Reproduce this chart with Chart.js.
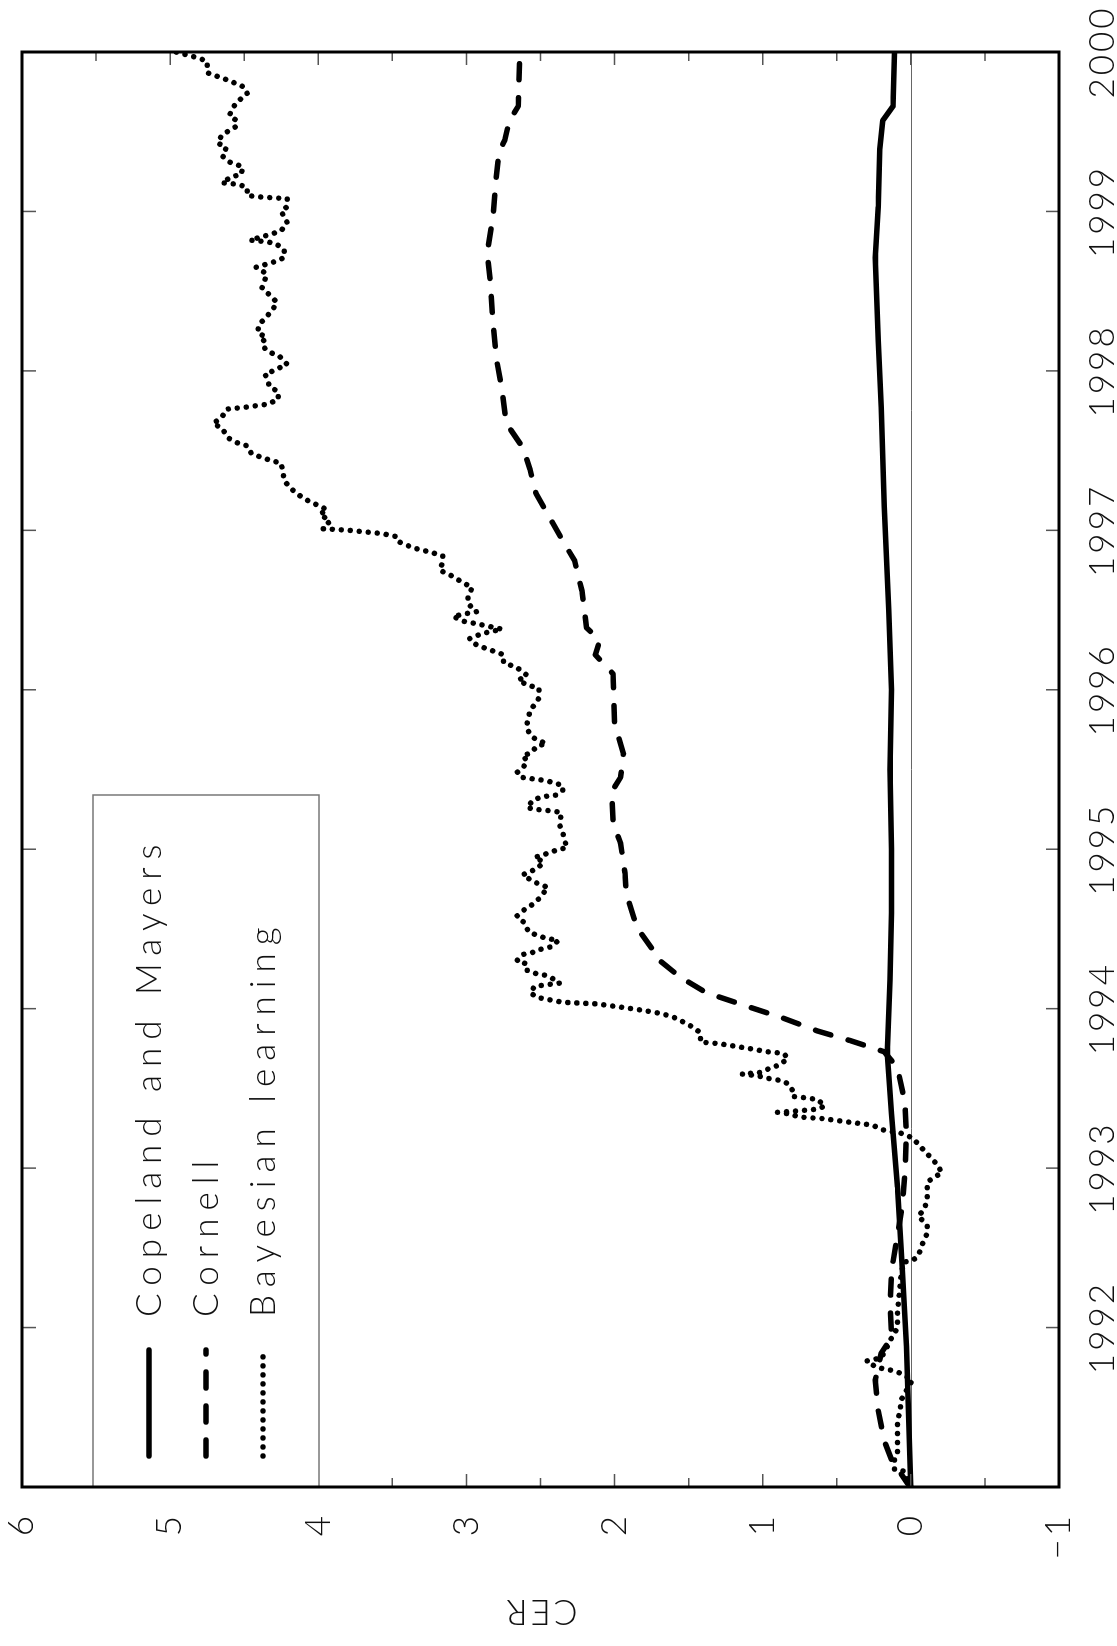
<!DOCTYPE html>
<html>
<head>
<meta charset="utf-8">
<title>CER</title>
<script src="https://cdn.jsdelivr.net/npm/chart.js@4.4.1/dist/chart.umd.min.js"></script>
<style>
  html, body { margin: 0; padding: 0; background: #fff; }
  #page { position: relative; width: 1117px; height: 1646px; overflow: hidden; }
  /* the chart is drawn landscape and turned a quarter turn to the left */
  #rot { position: absolute; left: 0; top: 0; width: 1646px; height: 1117px;
         transform-origin: 0 0; transform: translate(0, 1646px) rotate(-90deg); }
</style>
</head>
<body>
<div id="page"><div id="rot"><canvas id="cer" width="1646" height="1117"></canvas></div></div>
<script>
const seriesNames = ["Copeland and Mayers", "Cornell", "Bayesian learning"];
const yearTicks = [1992, 1993, 1994, 1995, 1996, 1997, 1998, 1999, 2000];
const cerTicks = [-1, 0, 1, 2, 3, 4, 5, 6];

const cmYear = [1991.00, 1991.88, 1992.40, 1992.88, 1993.34, 1993.72, 1994.18, 1994.60, 1995.00, 1995.50,
  1996.00, 1996.50, 1997.15, 1997.77, 1998.19, 1998.71, 1999.03, 1999.39, 1999.57, 1999.66, 2000.00];
const cmCER = [0.00, 0.03, 0.06, 0.09, 0.13, 0.16, 0.14, 0.13, 0.13, 0.14,
  0.13, 0.15, 0.18, 0.20, 0.22, 0.24, 0.22, 0.21, 0.19, 0.12, 0.11];

const cornellYear = [1991.00, 1991.02, 1991.17, 1991.29, 1991.48, 1991.67, 1991.84, 1991.94, 1992.13, 1992.36,
  1992.75, 1992.97, 1993.22, 1993.41, 1993.63, 1993.73, 1993.80, 1993.86, 1993.94, 1994.01,
  1994.10, 1994.20, 1994.32, 1994.38, 1994.51, 1994.72, 1994.85, 1995.04, 1995.16, 1995.36,
  1995.45, 1995.60, 1995.79, 1996.10, 1996.22, 1996.31, 1996.39, 1996.62, 1996.81, 1996.92,
  1997.05, 1997.23, 1997.38, 1997.52, 1997.67, 1997.88, 1998.09, 1998.30, 1998.57, 1998.74,
  1998.97, 1999.20, 1999.37, 1999.45, 1999.57, 1999.66, 2000.00];
const cornellCER = [0.00, 0.02, 0.13, 0.18, 0.22, 0.24, 0.20, 0.13, 0.14, 0.13,
  0.06, 0.04, 0.03, 0.04, 0.09, 0.18, 0.41, 0.63, 0.86, 1.09,
  1.38, 1.56, 1.72, 1.75, 1.85, 1.92, 1.93, 1.96, 2.01, 2.02,
  1.96, 1.94, 2.00, 2.01, 2.13, 2.10, 2.19, 2.22, 2.27, 2.34,
  2.42, 2.53, 2.57, 2.62, 2.73, 2.76, 2.80, 2.82, 2.84, 2.86,
  2.82, 2.80, 2.78, 2.74, 2.71, 2.65, 2.64];

const bayesYear = [1991.00, 1991.02, 1991.10, 1991.11, 1991.17, 1991.22, 1991.25, 1991.32, 1991.41, 1991.49,
  1991.54, 1991.67, 1991.71, 1991.73, 1991.75, 1991.79, 1991.81, 1991.88, 1991.92, 1991.95,
  1992.00, 1992.09, 1992.30, 1992.41, 1992.42, 1992.45, 1992.53, 1992.59, 1992.64, 1992.70,
  1992.74, 1992.80, 1992.91, 1992.94, 1992.97, 1993.02, 1993.09, 1993.14, 1993.19, 1993.22,
  1993.24, 1993.27, 1993.29, 1993.31, 1993.32, 1993.34, 1993.35, 1993.36, 1993.37, 1993.39,
  1993.43, 1993.44, 1993.45, 1993.49, 1993.53, 1993.55, 1993.56, 1993.58, 1993.59, 1993.60,
  1993.63, 1993.65, 1993.69, 1993.72, 1993.73, 1993.75, 1993.78, 1993.79, 1993.85, 1993.90,
  1993.95, 1993.97, 1993.99, 1994.01, 1994.03, 1994.04, 1994.07, 1994.10, 1994.14, 1994.15,
  1994.16, 1994.19, 1994.21, 1994.22, 1994.24, 1994.28, 1994.30, 1994.34, 1994.35, 1994.37,
  1994.39, 1994.43, 1994.44, 1994.46, 1994.48, 1994.54, 1994.58, 1994.62, 1994.65, 1994.69,
  1994.76, 1994.79, 1994.81, 1994.84, 1994.86, 1994.88, 1994.92, 1994.95, 1994.96, 1994.98,
  1995.00, 1995.01, 1995.06, 1995.11, 1995.15, 1995.23, 1995.24, 1995.25, 1995.26, 1995.31,
  1995.33, 1995.34, 1995.37, 1995.40, 1995.43, 1995.45, 1995.48, 1995.51, 1995.55, 1995.59,
  1995.60, 1995.65, 1995.66, 1995.70, 1995.75, 1995.79, 1995.87, 1995.92, 1995.95, 1996.01,
  1996.03, 1996.06, 1996.09, 1996.14, 1996.17, 1996.22, 1996.25, 1996.28, 1996.32, 1996.34,
  1996.36, 1996.38, 1996.39, 1996.41, 1996.43, 1996.46, 1996.48, 1996.49, 1996.54, 1996.59,
  1996.64, 1996.67, 1996.72, 1996.75, 1996.80, 1996.84, 1996.86, 1996.89, 1996.93, 1996.96,
  1996.98, 1997.00, 1997.01, 1997.06, 1997.10, 1997.13, 1997.16, 1997.20, 1997.25, 1997.31,
  1997.37, 1997.42, 1997.45, 1997.48, 1997.53, 1997.55, 1997.58, 1997.64, 1997.67, 1997.71,
  1997.76, 1997.77, 1997.79, 1997.82, 1997.87, 1997.90, 1997.94, 1997.98, 1997.99, 1998.02,
  1998.04, 1998.09, 1998.11, 1998.14, 1998.18, 1998.21, 1998.24, 1998.29, 1998.33, 1998.38,
  1998.43, 1998.46, 1998.52, 1998.57, 1998.61, 1998.65, 1998.68, 1998.71, 1998.76, 1998.80,
  1998.81, 1998.82, 1998.86, 1998.88, 1998.93, 1999.00, 1999.03, 1999.08, 1999.09, 1999.10,
  1999.15, 1999.17, 1999.18, 1999.22, 1999.23, 1999.28, 1999.31, 1999.35, 1999.40, 1999.43,
  1999.48, 1999.53, 1999.57, 1999.60, 1999.65, 1999.70, 1999.74, 1999.78, 1999.82, 1999.87,
  1999.94, 1999.96, 2000.00];
const bayesCER = [0.00, 0.01, 0.05, 0.11, 0.11, 0.09, 0.09, 0.09, 0.09, 0.07,
  0.07, -0.01, 0.06, 0.12, 0.23, 0.30, 0.20, 0.16, 0.14, 0.12,
  0.09, 0.09, 0.07, 0.05, -0.01, -0.05, -0.08, -0.11, -0.11, -0.05,
  -0.09, -0.11, -0.11, -0.15, -0.21, -0.18, -0.11, -0.06, -0.01, 0.07,
  0.19, 0.26, 0.43, 0.59, 0.75, 0.82, 0.90, 0.75, 0.63, 0.58,
  0.63, 0.70, 0.80, 0.80, 0.83, 0.88, 0.95, 1.04, 1.14, 1.02,
  0.94, 0.88, 0.83, 0.86, 0.97, 1.09, 1.29, 1.42, 1.42, 1.50,
  1.61, 1.69, 1.81, 1.96, 2.12, 2.35, 2.52, 2.57, 2.54, 2.46,
  2.37, 2.42, 2.47, 2.53, 2.59, 2.59, 2.66, 2.62, 2.56, 2.51,
  2.42, 2.38, 2.46, 2.52, 2.58, 2.61, 2.66, 2.61, 2.56, 2.51,
  2.45, 2.53, 2.57, 2.62, 2.57, 2.52, 2.48, 2.54, 2.49, 2.44,
  2.37, 2.32, 2.34, 2.35, 2.37, 2.36, 2.42, 2.53, 2.59, 2.55,
  2.48, 2.39, 2.35, 2.35, 2.46, 2.62, 2.66, 2.62, 2.59, 2.62,
  2.57, 2.52, 2.46, 2.55, 2.59, 2.59, 2.57, 2.53, 2.51, 2.51,
  2.59, 2.65, 2.59, 2.66, 2.75, 2.75, 2.84, 2.93, 2.98, 2.93,
  2.86, 2.76, 2.81, 2.91, 3.02, 3.09, 2.99, 2.93, 2.99, 2.99,
  2.96, 3.02, 3.11, 3.18, 3.16, 3.16, 3.23, 3.36, 3.46, 3.47,
  3.57, 3.79, 3.97, 3.92, 3.99, 3.94, 4.01, 4.10, 4.17, 4.23,
  4.24, 4.25, 4.36, 4.45, 4.48, 4.55, 4.61, 4.65, 4.71, 4.65,
  4.62, 4.51, 4.35, 4.27, 4.27, 4.33, 4.34, 4.36, 4.33, 4.26,
  4.21, 4.26, 4.31, 4.36, 4.38, 4.35, 4.41, 4.40, 4.36, 4.31,
  4.28, 4.31, 4.38, 4.36, 4.35, 4.42, 4.31, 4.23, 4.23, 4.29,
  4.35, 4.46, 4.31, 4.25, 4.21, 4.25, 4.21, 4.21, 4.38, 4.48,
  4.48, 4.54, 4.65, 4.58, 4.52, 4.51, 4.60, 4.65, 4.62, 4.68,
  4.65, 4.56, 4.55, 4.60, 4.58, 4.53, 4.48, 4.50, 4.60, 4.75,
  4.75, 4.80, 4.96];

const pts = (xs, ys) => xs.map((x, i) => ({ x: x, y: ys[i] }));

const textFont = { family: "Lato", size: 35, weight: "300" };

const lineStyles = [
  { borderDash: [], borderWidth: 5.5 },
  { borderDash: [16, 18], borderWidth: 5.5 },
  { borderDash: [0.01, 9], borderWidth: 5.5 }
];

const datasets = [
  { label: seriesNames[0], data: pts(cmYear, cmCER) },
  { label: seriesNames[1], data: pts(cornellYear, cornellCER) },
  { label: seriesNames[2], data: pts(bayesYear, bayesCER) }
].map((d, i) => Object.assign(d, {
  borderColor: "#000",
  borderCapStyle: "round",
  borderJoinStyle: "round",
  pointRadius: 0,
  tension: 0,
  fill: false
}, lineStyles[i]));

// zero line, inward ticks, legend box and the frame
const frame = {
  id: "frame",
  beforeDraw(chart) {
    chart.ctx.letterSpacing = "3px";
  },
  beforeDatasetsDraw(chart) {
    const { ctx, chartArea: a, scales: { y } } = chart;
    const y0 = Math.round(y.getPixelForValue(0)) + 0.5;
    ctx.save();
    ctx.strokeStyle = "#666";
    ctx.lineWidth = 1;
    ctx.beginPath();
    ctx.moveTo(a.left, y0);
    ctx.lineTo(a.right, y0);
    ctx.stroke();
    ctx.restore();
  },
  afterDraw(chart) {
    const { ctx, chartArea: a, scales: { x, y } } = chart;
    ctx.save();
    ctx.strokeStyle = "#555";
    ctx.lineWidth = 1.5;
    ctx.beginPath();
    yearTicks.forEach(v => {
      const px = x.getPixelForValue(v);
      ctx.moveTo(px, a.top); ctx.lineTo(px, a.top + 14);
      ctx.moveTo(px, a.bottom); ctx.lineTo(px, a.bottom - 13);
    });
    for (let v = -1; v <= 6; v += 0.5) {
      const py = y.getPixelForValue(v);
      const len = Number.isInteger(v) ? 13 : 9;
      ctx.moveTo(a.left, py); ctx.lineTo(a.left + len, py);
      ctx.moveTo(a.right, py); ctx.lineTo(a.right - len, py);
    }
    ctx.stroke();

    // legend box
    const bx = a.left, by = a.top + 71, bw = 692, bh = 226;
    ctx.fillStyle = "#fff";
    ctx.fillRect(bx, by, bw, bh);
    ctx.strokeStyle = "#777";
    ctx.lineWidth = 1.5;
    ctx.strokeRect(bx, by, bw, bh);
    const rows = [127, 184, 241];
    rows.forEach((r, i) => {
      const ly = a.top + r;
      ctx.save();
      ctx.strokeStyle = "#000";
      ctx.lineWidth = 5.5;
      ctx.lineCap = "round";
      ctx.setLineDash(lineStyles[i].borderDash);
      ctx.beginPath();
      ctx.moveTo(a.left + 31, ly);
      ctx.lineTo(a.left + 137, ly);
      ctx.stroke();
      ctx.restore();
      ctx.fillStyle = "#111";
      ctx.font = "300 35px Lato";
      ctx.letterSpacing = "8px";
      ctx.textAlign = "left";
      ctx.textBaseline = "alphabetic";
      ctx.fillText(seriesNames[i], a.left + 170, ly + 12);
    });

    ctx.strokeStyle = "#000";
    ctx.lineWidth = 3;
    ctx.strokeRect(a.left, a.top, a.right - a.left, a.bottom - a.top);
    ctx.restore();
  }
};

new Chart(document.getElementById("cer"), {
  type: "line",
  data: { datasets: datasets },
  options: {
    responsive: false,
    animation: false,
    devicePixelRatio: 1,
    layout: { padding: { left: 0, top: 22, right: 52, bottom: 0 } },
    plugins: { legend: { display: false }, tooltip: { enabled: false } },
    scales: {
      x: {
        type: "linear",
        min: 1991,
        max: 2000,
        afterBuildTicks: s => { s.ticks = yearTicks.map(v => ({ value: v })); },
        afterFit: s => { s.height = 58; s.paddingLeft = 0; s.paddingRight = 0; },
        grid: { display: false },
        border: { display: false },
        ticks: { font: textFont, color: "#111", padding: 15, maxRotation: 0, autoSkip: false,
                 callback: v => String(v) }
      },
      y: {
        type: "linear",
        min: -1,
        max: 6,
        afterBuildTicks: s => { s.ticks = cerTicks.map(v => ({ value: v })); },
        afterFit: s => { s.width = 159; s.paddingTop = 0; s.paddingBottom = 0; },
        grid: { display: false },
        border: { display: false },
        title: { display: true, text: "CER", font: textFont, color: "#111", padding: { top: 14, bottom: 0 } },
        ticks: { font: textFont, color: "#111", padding: 18,
                 callback: v => (v < 0 ? "\u2212" + Math.abs(v) : String(v)) }
      }
    }
  },
  plugins: [frame]
});
</script>
</body>
</html>
